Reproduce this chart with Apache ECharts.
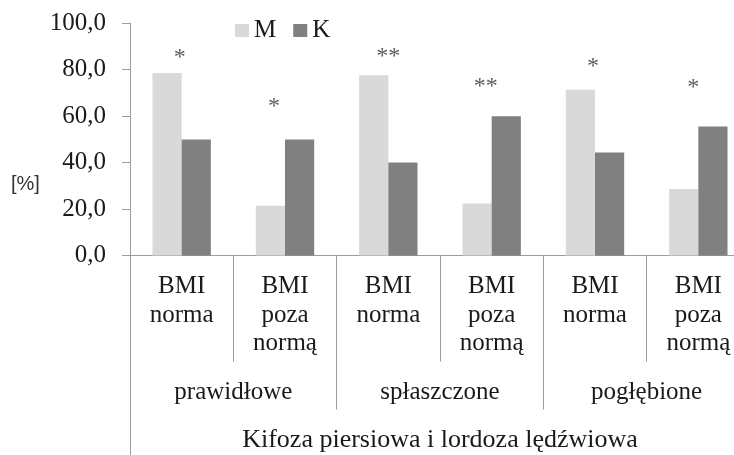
<!DOCTYPE html>
<html>
<head>
<meta charset="utf-8">
<script src="https://cdn.jsdelivr.net/npm/echarts@6/dist/echarts.min.js"></script>
<style>
  html, body { margin: 0; padding: 0; background: #ffffff; }
  #chart { width: 734px; height: 455px; }
</style>
</head>
<body>
<div id="chart"></div>
<script>
// BMI subgroups within each posture type
const categories = ['BMI\nnorma', 'BMI\npoza\nnormą', 'BMI\nnorma', 'BMI\npoza\nnormą', 'BMI\nnorma', 'BMI\npoza\nnormą'];
// posture types (each spans two BMI subgroups)
const groups = ['prawidłowe', 'spłaszczone', 'pogłębione'];
const axisTitle = 'Kifoza piersiowa i lordoza lędźwiowa';
const seriesNames = ['M', 'K'];
// percentage values
const valuesM = [78.6, 21.4, 77.6, 22.4, 71.4, 28.6];
const valuesK = [50.0, 50.0, 40.0, 60.0, 44.4, 55.6];
// significance markers and the height at which each one is placed
const stars = ['*', '*', '**', '**', '*', '*'];
const starHeights = [87.0, 65.9, 87.2, 74.3, 82.9, 73.8];
// y axis range
const yMin = 0, yMax = 100, yStep = 20;

// horizontal nudges of the markers (pixels)
const starShift = [-2, -11, 0, -6, -2, -5];

const serif = '"Liberation Serif", "Times New Roman", serif';
const textColor = '#1a1a1a';
const lineColor = '#9c9c9c';

const chart = echarts.init(document.getElementById('chart'), null, { renderer: 'canvas' });

chart.setOption({
  backgroundColor: '#ffffff',
  animation: false,
  title: {
    text: '[%]',
    left: 6,
    top: 169,
    textStyle: { fontFamily: '"Liberation Sans", Arial, sans-serif', fontSize: 20, fontWeight: 'normal', color: '#333333' }
  },
  legend: {
    data: seriesNames,
    left: 230,
    top: 13,
    icon: 'rect',
    itemWidth: 14,
    itemHeight: 13,
    itemGap: 17,
    textStyle: { fontFamily: serif, fontSize: 25, color: textColor }
  },
  grid: {
    left: 130,
    right: -16,
    top: 23.3,
    bottom: 199.5,
    outerBoundsMode: 'none',
    containLabel: false
  },
  xAxis: [
    {
      type: 'category',
      data: categories,
      position: 'bottom',
      axisLine: { show: true, lineStyle: { color: lineColor, width: 1 } },
      axisTick: { show: true, interval: 0, alignWithLabel: false, length: 106, lineStyle: { color: lineColor } },
      axisLabel: {
        interval: 0, margin: 17,
        fontFamily: serif, fontSize: 25, lineHeight: 28.5, color: textColor, align: 'center'
      },
      splitLine: { show: false }
    },
    {
      type: 'category',
      data: groups,
      position: 'bottom',
      axisLine: { show: false },
      axisTick: { show: true, interval: 0, alignWithLabel: false, length: 154, lineStyle: { color: lineColor } },
      axisLabel: {
        interval: 0, margin: 123,
        fontFamily: serif, fontSize: 25, lineHeight: 28.5, color: textColor
      },
      splitLine: { show: false }
    },
    {
      type: 'category',
      data: [axisTitle],
      position: 'bottom',
      axisLine: { show: false },
      axisTick: { show: true, interval: 0, alignWithLabel: false, length: 200, lineStyle: { color: lineColor } },
      axisLabel: {
        interval: 0, margin: 170,
        fontFamily: serif, fontSize: 26, lineHeight: 29, color: textColor
      },
      splitLine: { show: false }
    }
  ],
  yAxis: {
    type: 'value',
    min: yMin,
    max: yMax,
    interval: yStep,
    axisLine: { show: true, lineStyle: { color: lineColor, width: 1 } },
    axisTick: { show: true, inside: false, length: 8, lineStyle: { color: lineColor } },
    axisLabel: {
      margin: 24,
      fontFamily: serif, fontSize: 25, color: textColor,
      padding: [5, 0, 0, 0],
      formatter: v => v.toFixed(1).replace('.', ',')
    },
    splitLine: { show: false }
  },
  series: [
    {
      name: seriesNames[0],
      type: 'bar',
      xAxisIndex: 0,
      data: valuesM,
      barGap: '0%',
      barCategoryGap: '43.5%',
      itemStyle: { color: '#d9d9d9' }
    },
    {
      name: seriesNames[1],
      type: 'bar',
      xAxisIndex: 0,
      data: valuesK,
      barGap: '0%',
      barCategoryGap: '43.5%',
      itemStyle: { color: '#808080' }
    },
    {
      name: 'markers',
      type: 'scatter',
      xAxisIndex: 0,
      symbol: 'circle',
      symbolSize: 1,
      itemStyle: { color: 'rgba(0,0,0,0)' },
      silent: true,
      data: starHeights.map((h, i) => ({
        value: [i, h],
        label: { offset: [starShift[i], 4] }
      })),
      label: {
        show: true,
        position: 'inside',
        formatter: p => stars[p.dataIndex],
        fontFamily: serif,
        fontSize: 24,
        color: '#333333'
      }
    }
  ]
});
</script>
</body>
</html>
